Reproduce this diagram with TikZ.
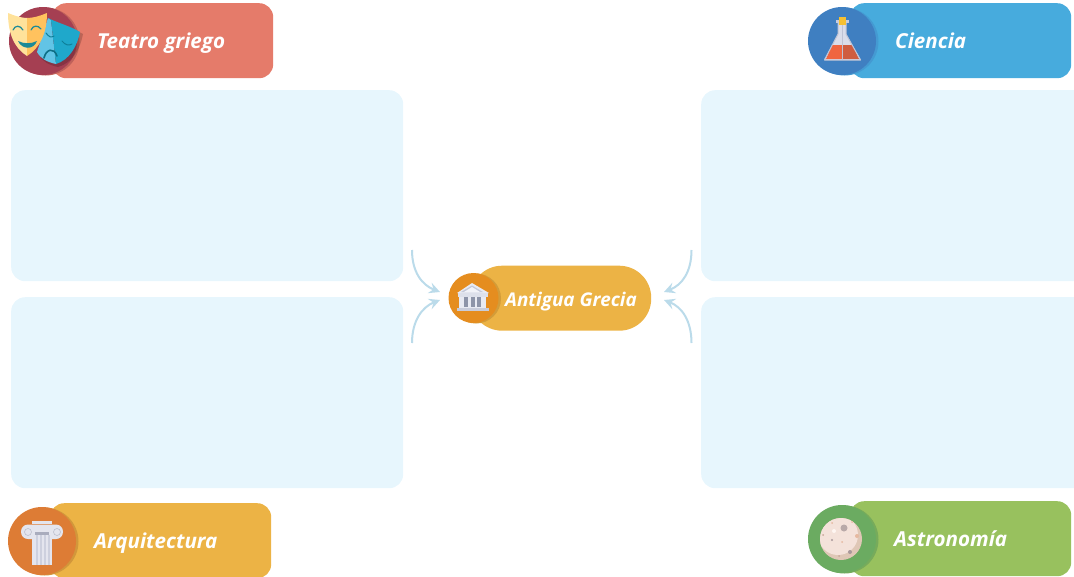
\documentclass[tikz,border=0pt]{standalone}
\usepackage{fontspec}
\setmainfont{Open Sans}[Ligatures=NoCommon]
\usetikzlibrary{arrows.meta,calc}
\definecolor{panelc}{HTML}{E7F6FD}
\definecolor{arrowc}{HTML}{BBDBEA}
\definecolor{redp}{HTML}{E57B6A}
\definecolor{redc}{HTML}{A53F52}
\definecolor{bluep}{HTML}{47ABDD}
\definecolor{bluec}{HTML}{3F7FC1}
\definecolor{orangep}{HTML}{ECB345}
\definecolor{orangec}{HTML}{E58D1F}
\definecolor{archc}{HTML}{DD7C35}
\definecolor{greenp}{HTML}{98C15E}
\definecolor{greenc}{HTML}{6BAB61}
\tikzset{
  hx/.code={\definecolor{tmpc}{HTML}{#1}\pgfkeysalso{/tikz/color=tmpc}},
  panelbox/.style={fill=panelc,rounded corners=14pt,minimum width=#1,minimum height=191pt,inner sep=0pt,anchor=north west},
  pill/.style={rounded corners=14pt,minimum width=221pt,minimum height=75pt,inner sep=0pt,anchor=north west},
  badge/.style={circle,minimum size=#1,inner sep=0pt},
  label/.style={text=white,font=\fontsize{20.6}{24}\selectfont\bfseries\itshape,inner sep=0pt},
  link/.style={draw=arrowc,line width=2pt,-{Stealth[length=11pt,width=11pt,inset=4pt]}},
}
\begin{document}
\begin{tikzpicture}[x=1pt,y=-1pt]
\useasboundingbox (0,0) rectangle (1074,576);
\clip (0,0) rectangle (1074,576);
% panels
\node[panelbox=392pt] (tl) at (11,90) {};
\node[panelbox=392pt] (bl) at (11,297) {};
\node[panelbox=395pt] (tr) at (701,90) {};
\node[panelbox=395pt] (br) at (701,297) {};
% pills
\node[pill,fill=redp] (teatro) at (52,3) {};
\node[pill,fill=bluep] (ciencia) at (850,3) {};
\node[pill,fill=orangep] (arqui) at (50,503) {};
\node[pill,fill=greenp] (astro) at (850,501) {};
\node[fill=orangep,rounded corners=32pt,minimum width=181pt,minimum height=65pt,inner sep=0pt,anchor=north west] (centre) at (470,265.5) {};
% badge shadows
\fill[redc!25!redp!90!black] (45.5,41.5) circle (34);
\fill[bluec!40!bluep] (844.5,41.5) circle (34);
\fill[archc!20!orangep!90!black] (44.5,541.5) circle (34);
\fill[greenc!60!greenp!95!black] (844.5,539.5) circle (34);
\fill[orangec!15!orangep!90!black] (476,298.5) circle (25);
% badges
\node[badge=68pt,fill=redc] (bteatro) at (43,41) {};
\node[badge=68pt,fill=bluec] (bciencia) at (842,41) {};
\node[badge=68pt,fill=archc] (barqui) at (42,541) {};
\node[badge=68pt,fill=greenc] (bastro) at (842,539) {};
\node[badge=50pt,fill=orangec] (bcentre) at (473.5,298) {};
% labels
\node[label,anchor=base west] (lteatro) at (97,48) {Teatro griego};
\node[label,anchor=base west] (lciencia) at (895,48) {Ciencia};
\node[label,anchor=base west] (larqui) at (94,548.5) {Arquitectura};
\node[label,anchor=base west] (lastro) at (894,546) {Astronomía};
\node[label,anchor=base west,font=\fontsize{18.9}{22}\selectfont\bfseries\itshape] (lcentre) at (505,306) {Antigua Grecia};
% connectors
\coordinate (a1) at (412,250); \coordinate (a1e) at (440,292);
\coordinate (a2) at (412,343); \coordinate (a2e) at (440,300);
\coordinate (a3) at (691.5,250); \coordinate (a3e) at (664,292);
\coordinate (a4) at (691.5,343); \coordinate (a4e) at (664,300);
\draw[link] (a1) .. controls (412,272) and (422,285) .. (a1e);
\draw[link] (a2) .. controls (412,321) and (422,307) .. (a2e);
\draw[link] (a3) .. controls (691.5,272) and (682,285) .. (a3e);
\draw[link] (a4) .. controls (691.5,321) and (682,307) .. (a4e);
% masks
\fill[black,opacity=.18] (52,20) .. controls (62,25) and (72,28) .. (83,34) .. controls (80,50) and (72,63) .. (58,67) .. controls (49,65) and (43,62) .. (39,55) -- cycle;
\fill[hx=62C4E6] (48,18) -- (51,20) -- (56,64) .. controls (47,62) and (41,59) .. (37,52) -- cycle;
\fill[hx=1FA8CB] (48,18) .. controls (58,23) and (70,26) .. (80,32) .. controls (77,47) and (69,60) .. (56,64) -- (51,20) -- cycle;
\draw[hx=0E6F86,line width=1.6pt,line cap=round] (44,58) .. controls (46,49) and (54,47) .. (57,56);
\draw[hx=0E7F99,line width=1pt,line cap=round] (62,41) .. controls (65,45) and (69,46) .. (72,44);
\draw[hx=0E7F99,line width=1pt,line cap=round] (46,33) .. controls (49,37) and (51,38) .. (54,36);
\fill[hx=FFE29B] (8,13) .. controls (15,16) and (22,18) .. (27,18) -- (27,56) .. controls (14,48) and (8,33) .. (8,13) -- cycle;
\fill[hx=FFC25E] (27,18) .. controls (33,18) and (40,16) .. (47,13) .. controls (47,33) and (40,48) .. (27,56) -- cycle;
\draw[hx=1C8A97,line width=1.2pt,line cap=round] (13,30) .. controls (15,25) and (20,25) .. (23,30);
\draw[hx=1C8A97,line width=1.2pt,line cap=round] (31,30) .. controls (33,25) and (38,25) .. (41,29);
\fill[hx=1C8A97] (18,41) .. controls (24,44) and (31,44) .. (37,41) .. controls (34,50) and (22,50) .. (18,41) -- cycle;
% flask
\fill[hx=DADDEA] (838,22) -- (846,22) -- (846,34) -- (861,60) -- (824,60) -- (838,34) -- cycle;
\fill[hx=F0653F] (832,45) -- (842,45) -- (842,59) -- (826,59) -- cycle;
\fill[hx=CF5D40] (842,45) -- (852.5,45) -- (859,59) -- (842,59) -- cycle;
\draw[hx=BFC3D4,line width=1pt,line join=round] (838,23) -- (838,34) -- (824.5,60) -- (860.5,60) -- (846,34) -- (846,23);
\draw[hx=BFC3D4,line width=.6pt] (842,24) -- (842,60);
\fill[hx=C8CCDC] (836,20) rectangle (849,23);
\fill[hx=F5C032] (839,17) rectangle (846,25);
% temple
\fill[hx=E8EAF2] (472,283) -- (489,293) -- (457,293) -- cycle;
\fill[hx=C4C8D8] (472,285.5) -- (483,292) -- (461,292) -- cycle;
\fill[hx=F2F3F8] (472,287) -- (480,292) -- (464,292) -- cycle;
\fill[hx=DDE0EA] (458,293) rectangle (488,297);
\fill[hx=E8EAF2] (459,297) rectangle (486,308);
\fill[hx=8D94A8] (464,297) rectangle (468,307);
\fill[hx=8D94A8] (471,297) rectangle (475,307);
\fill[hx=8D94A8] (477,297) rectangle (481,307);
\fill[hx=C8CCDA] (457,308) rectangle (489,311);
% column
\fill[hx=E4E5EE] (32,521) rectangle (52,524);
\fill[hx=E4E5EE,rounded corners=7pt] (21,524.5) rectangle (63,539);
\fill[hx=E4E5EE] (32,532) rectangle (52,565);
\fill[hx=A9ACBD] (35,532) rectangle (49,535);
\foreach \gx in {36,40,44,48} \fill[hx=CDD0DE] (\gx,535) rectangle (\gx+1.5,565);
\draw[hx=BDC0CE,line width=.6pt] (28,532) circle (3.5);
\draw[hx=BDC0CE,line width=.6pt] (57,532) circle (3.5);
% moon
\fill[hx=DFC7B6] (841,539) circle (21);
\begin{scope}
\clip (841,539) circle (21);
\fill[hx=F4E2DA] (838,535) circle (20);
\end{scope}
\fill[hx=B9A9A8] (844,528) circle (3.5);
\fill[hx=FFF6F2] (834,531) circle (2);
\fill[hx=A8989A] (850,552) circle (2);
\fill[hx=A8989A] (832,540) circle (1.2);
\fill[hx=E6B9A0] (857,536) circle (2);
\fill[hx=E6B9A0] (842,542) circle (1);
\fill[hx=C9A79A] (839,556) circle (1);
\fill[hx=C9A79A] (823,535) circle (1);
\fill[hx=E6B9A0] (852,522) circle (1);
\fill[hx=E6B9A0] (832,523) circle (1);
\end{tikzpicture}
\end{document}
